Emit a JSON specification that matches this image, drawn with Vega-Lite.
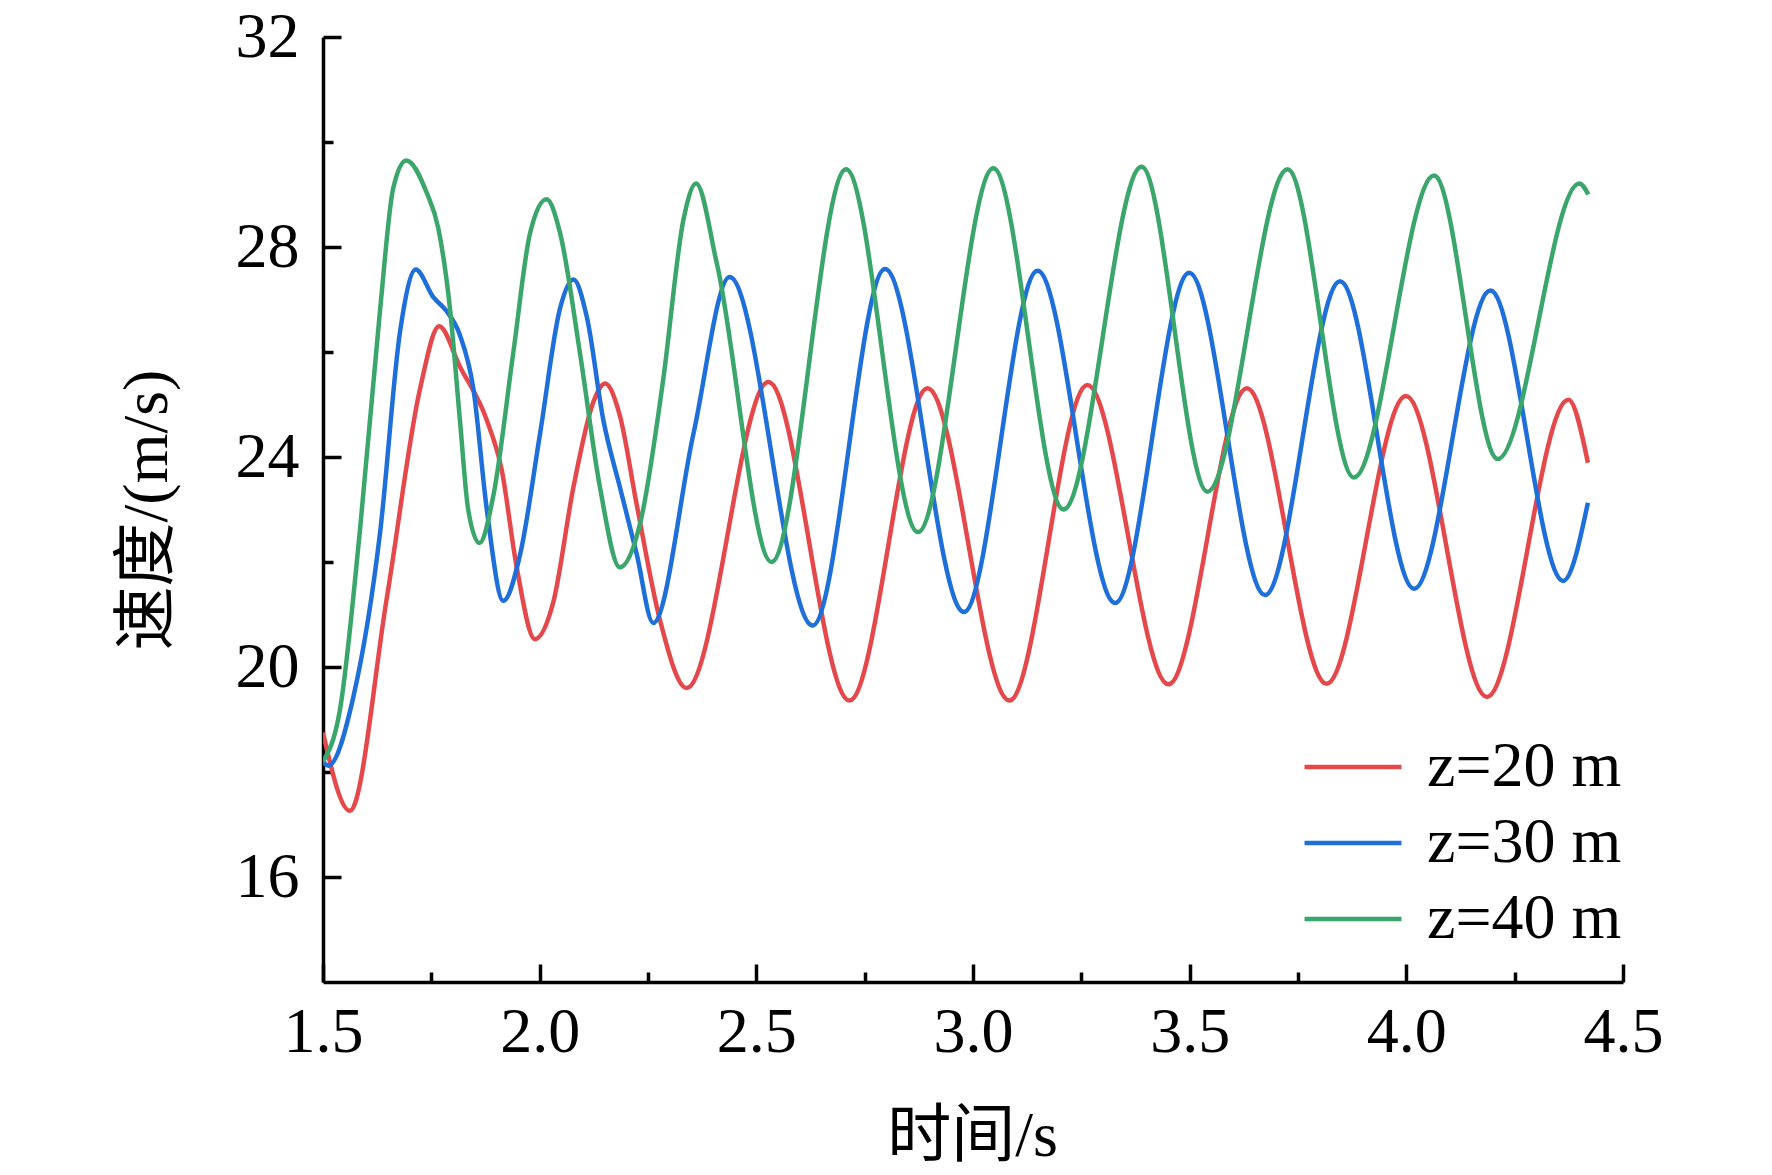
{
  "$schema": "https://vega.github.io/schema/vega-lite/v6.json",
  "width": 1300,
  "height": 945,
  "autosize": {"type": "none"},
  "padding": {"left": 323, "top": 37, "right": 149, "bottom": 193},
  "background": "white",
  "config": {
    "view": {"stroke": null},
    "axis": {"grid": false, "domainColor": "black", "tickColor": "black", "labelColor": "black", "titleColor": "black", "domainWidth": 3.5, "tickWidth": 3.5, "labelFont": "Liberation Serif", "titleFont": "Liberation Serif, Noto Sans CJK SC", "titleFontWeight": "normal"}
  },
  "datasets": {
    "d": [
      {"s": "z=20 m", "t": 1.5, "v": 18.75}, {"s": "z=20 m", "t": 1.562, "v": 17.26}, {"s": "z=20 m", "t": 1.647, "v": 21.3}, {"s": "z=20 m", "t": 1.724, "v": 25.3}, {"s": "z=20 m", "t": 1.768, "v": 26.49}, {"s": "z=20 m", "t": 1.816, "v": 25.72}, {"s": "z=20 m", "t": 1.878, "v": 24.7}, {"s": "z=20 m", "t": 1.912, "v": 23.77}, {"s": "z=20 m", "t": 1.947, "v": 21.9}, {"s": "z=20 m", "t": 1.989, "v": 20.53}, {"s": "z=20 m", "t": 2.031, "v": 21.22}, {"s": "z=20 m", "t": 2.078, "v": 23.43}, {"s": "z=20 m", "t": 2.124, "v": 25.05}, {"s": "z=20 m", "t": 2.151, "v": 25.4}, {"s": "z=20 m", "t": 2.185, "v": 24.79}, {"s": "z=20 m", "t": 2.224, "v": 23.09}, {"s": "z=20 m", "t": 2.278, "v": 20.88}, {"s": "z=20 m", "t": 2.339, "v": 19.6}, {"s": "z=20 m", "t": 2.528, "v": 25.43}, {"s": "z=20 m", "t": 2.715, "v": 19.36}, {"s": "z=20 m", "t": 2.895, "v": 25.31}, {"s": "z=20 m", "t": 3.084, "v": 19.36}, {"s": "z=20 m", "t": 3.264, "v": 25.37}, {"s": "z=20 m", "t": 3.451, "v": 19.67}, {"s": "z=20 m", "t": 3.632, "v": 25.31}, {"s": "z=20 m", "t": 3.816, "v": 19.68}, {"s": "z=20 m", "t": 3.999, "v": 25.16}, {"s": "z=20 m", "t": 4.186, "v": 19.43}, {"s": "z=20 m", "t": 4.374, "v": 25.09}, {"s": "z=20 m", "t": 4.419, "v": 23.89},
      {"s": "z=30 m", "t": 1.5, "v": 18.2}, {"s": "z=30 m", "t": 1.512, "v": 18.12}, {"s": "z=30 m", "t": 1.57, "v": 19.43}, {"s": "z=30 m", "t": 1.632, "v": 22.58}, {"s": "z=30 m", "t": 1.678, "v": 26.4}, {"s": "z=30 m", "t": 1.714, "v": 27.57}, {"s": "z=30 m", "t": 1.755, "v": 27.04}, {"s": "z=30 m", "t": 1.785, "v": 26.78}, {"s": "z=30 m", "t": 1.816, "v": 26.32}, {"s": "z=30 m", "t": 1.847, "v": 25.3}, {"s": "z=30 m", "t": 1.878, "v": 23.0}, {"s": "z=30 m", "t": 1.916, "v": 21.26}, {"s": "z=30 m", "t": 1.955, "v": 22.15}, {"s": "z=30 m", "t": 2.001, "v": 24.45}, {"s": "z=30 m", "t": 2.047, "v": 26.83}, {"s": "z=30 m", "t": 2.078, "v": 27.38}, {"s": "z=30 m", "t": 2.109, "v": 26.66}, {"s": "z=30 m", "t": 2.147, "v": 24.7}, {"s": "z=30 m", "t": 2.185, "v": 23.43}, {"s": "z=30 m", "t": 2.224, "v": 22.15}, {"s": "z=30 m", "t": 2.262, "v": 20.84}, {"s": "z=30 m", "t": 2.355, "v": 24.45}, {"s": "z=30 m", "t": 2.438, "v": 27.43}, {"s": "z=30 m", "t": 2.63, "v": 20.79}, {"s": "z=30 m", "t": 2.797, "v": 27.58}, {"s": "z=30 m", "t": 2.979, "v": 21.05}, {"s": "z=30 m", "t": 3.149, "v": 27.55}, {"s": "z=30 m", "t": 3.328, "v": 21.22}, {"s": "z=30 m", "t": 3.499, "v": 27.51}, {"s": "z=30 m", "t": 3.674, "v": 21.37}, {"s": "z=30 m", "t": 3.847, "v": 27.35}, {"s": "z=30 m", "t": 4.018, "v": 21.49}, {"s": "z=30 m", "t": 4.194, "v": 27.17}, {"s": "z=30 m", "t": 4.362, "v": 21.64}, {"s": "z=30 m", "t": 4.419, "v": 23.13},
      {"s": "z=40 m", "t": 1.5, "v": 18.2}, {"s": "z=40 m", "t": 1.539, "v": 19.18}, {"s": "z=40 m", "t": 1.585, "v": 22.58}, {"s": "z=40 m", "t": 1.632, "v": 26.83}, {"s": "z=40 m", "t": 1.662, "v": 29.12}, {"s": "z=40 m", "t": 1.692, "v": 29.65}, {"s": "z=40 m", "t": 1.739, "v": 29.04}, {"s": "z=40 m", "t": 1.766, "v": 28.36}, {"s": "z=40 m", "t": 1.793, "v": 26.83}, {"s": "z=40 m", "t": 1.816, "v": 24.7}, {"s": "z=40 m", "t": 1.835, "v": 23.0}, {"s": "z=40 m", "t": 1.861, "v": 22.36}, {"s": "z=40 m", "t": 1.893, "v": 23.26}, {"s": "z=40 m", "t": 1.939, "v": 25.98}, {"s": "z=40 m", "t": 1.978, "v": 28.27}, {"s": "z=40 m", "t": 2.016, "v": 28.91}, {"s": "z=40 m", "t": 2.047, "v": 28.27}, {"s": "z=40 m", "t": 2.093, "v": 25.98}, {"s": "z=40 m", "t": 2.139, "v": 23.43}, {"s": "z=40 m", "t": 2.185, "v": 21.9}, {"s": "z=40 m", "t": 2.232, "v": 22.74}, {"s": "z=40 m", "t": 2.285, "v": 25.47}, {"s": "z=40 m", "t": 2.332, "v": 28.53}, {"s": "z=40 m", "t": 2.361, "v": 29.21}, {"s": "z=40 m", "t": 2.409, "v": 27.68}, {"s": "z=40 m", "t": 2.535, "v": 22.0}, {"s": "z=40 m", "t": 2.707, "v": 29.48}, {"s": "z=40 m", "t": 2.873, "v": 22.57}, {"s": "z=40 m", "t": 3.047, "v": 29.5}, {"s": "z=40 m", "t": 3.209, "v": 23.0}, {"s": "z=40 m", "t": 3.389, "v": 29.53}, {"s": "z=40 m", "t": 3.541, "v": 23.34}, {"s": "z=40 m", "t": 3.726, "v": 29.48}, {"s": "z=40 m", "t": 3.879, "v": 23.61}, {"s": "z=40 m", "t": 4.064, "v": 29.36}, {"s": "z=40 m", "t": 4.211, "v": 23.96}, {"s": "z=40 m", "t": 4.399, "v": 29.21}, {"s": "z=40 m", "t": 4.42, "v": 29.0}
    ]
  },
  "data": {"name": "d"},
  "layer": [
    {
      "mark": {"type": "line", "interpolate": "monotone", "strokeWidth": 4.5, "clip": true},
      "encoding": {
        "x": {"field": "t", "type": "quantitative", "scale": {"domain": [1.5, 4.5], "nice": false, "zero": false},
          "axis": {"values": [1.5, 2.0, 2.5, 3.0, 3.5, 4.0, 4.5], "format": ".1f", "tickSize": -18, "domainWidth": 3.5, "tickWidth": 3.5, "labelFontSize": 64, "labelPadding": 36, "labelFlush": false, "labelOverlap": false, "title": "时间/s", "titleFontSize": 64, "titlePadding": 40, "titleX": 649}},
        "y": {"field": "v", "type": "quantitative", "scale": {"domain": [14, 32], "nice": false, "zero": false},
          "axis": {"values": [16, 20, 24, 28, 32], "tickSize": -18, "domainWidth": 3.5, "tickWidth": 3.5, "labelFontSize": 64, "labelPadding": 42, "labelFlush": false, "labelOverlap": false, "title": "速度/(m/s)", "titleFontSize": 64, "titlePadding": 56}},
        "color": {"field": "s", "type": "nominal",
          "scale": {"domain": ["z=20 m", "z=30 m", "z=40 m"], "range": ["#E5484B", "#1E6FD9", "#3BA66B"]},
          "legend": {"title": null, "orient": "none", "legendX": 979, "legendY": 692, "symbolType": "stroke", "symbolSize": 9400, "symbolStrokeWidth": 4.5, "labelFont": "Liberation Serif", "labelFontSize": 64, "labelColor": "black", "labelOffset": 23, "labelLimit": 500, "clipHeight": 76, "rowPadding": 0}}
      }
    },
    {
      "mark": {"type": "line", "opacity": 0},
      "encoding": {
        "x": {"field": "t", "type": "quantitative", "axis": {"orient": "bottom", "values": [1.75, 2.25, 2.75, 3.25, 3.75, 4.25], "labels": false, "domain": false, "tickSize": -10, "tickWidth": 3.5, "title": null}},
        "y": {"field": "v", "type": "quantitative", "axis": {"orient": "left", "values": [18, 22, 26, 30], "labels": false, "domain": false, "tickSize": -10, "tickWidth": 3.5, "title": null}}
      }
    }
  ],
  "resolve": {"axis": {"x": "independent", "y": "independent"}}
}
